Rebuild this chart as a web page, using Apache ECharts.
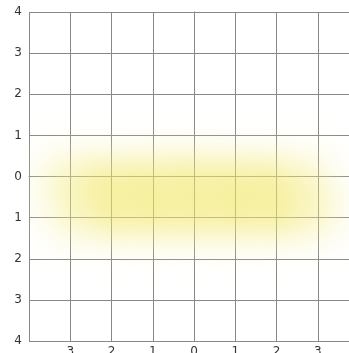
<!DOCTYPE html>
<html>
<head>
<meta charset="utf-8">
<script src="https://cdn.jsdelivr.net/npm/echarts@6/dist/echarts.min.js"></script>
<style>html,body{margin:0;padding:0;background:#fff;}#c{width:349px;height:353px;}</style>
</head>
<body>
<div id="c"></div>
<script>
// axis ticks (value -> label text as printed in the reference)
var tickValues = [-4, -3, -2, -1, 0, 1, 2, 3, 4];
var xTickLabels = ['4', '3', '2', '1', '0', '1', '2', '3', '4'];
var yTickLabels = ['4', '3', '2', '1', '0', '1', '2', '3', '4'];

// heat sources (two rows)
var blobX = [-3.2, -2.2, -1.2, -0.2, 0.8, 1.8, 2.8, -3.0, -2.0, -1.0, 0.0, 1.0, 2.0, 3.0];
var blobY = [0.0, -0.05, -0.05, 0.0, -0.05, -0.05, -0.05, -0.95, -0.95, -0.95, -0.95, -0.95, -0.95, -0.95];
var blobValue = [3, 7, 8, 9, 8, 7, 3, 3, 7, 8, 9, 8, 7, 3];

var heatData = blobX.map(function (x, i) { return [x, blobY[i], blobValue[i]]; });

echarts.registerMap('box', {
  type: 'FeatureCollection',
  features: [{
    type: 'Feature', properties: { name: 'box' },
    geometry: { type: 'Polygon', coordinates: [[[-4, -4], [4, -4], [4, 4], [-4, 4], [-4, -4]]] }
  }]
});

function lab(arr) {
  return function (v) {
    var i = tickValues.indexOf(Math.round(v));
    return i >= 0 ? arr[i] : '';
  };
}

var chart = echarts.init(document.getElementById('c'), null, { renderer: 'canvas' });
chart.setOption({
  animation: false,
  backgroundColor: '#fff',
  grid: { left: 29, top: 12, width: 330, height: 329, containLabel: false, outerBoundsMode: 'none' },
  xAxis: {
    type: 'value', min: -4, max: 4, interval: 1,
    axisLine: { show: true, lineStyle: { color: '#888', width: 1 } },
    axisTick: { show: false },
    splitLine: { show: true, lineStyle: { color: '#888', width: 1 } },
    axisLabel: { formatter: lab(xTickLabels), showMinLabel: false, color: '#333', fontSize: 12, margin: 5, fontFamily: 'DejaVu Sans' }
  },
  yAxis: {
    type: 'value', min: -4, max: 4, interval: 1,
    axisLine: { show: true, lineStyle: { color: '#888', width: 1 } },
    axisTick: { show: false },
    splitLine: { show: true, lineStyle: { color: '#888', width: 1 } },
    axisLabel: { formatter: lab(yTickLabels), color: '#333', fontSize: 12, margin: 7, fontFamily: 'DejaVu Sans' }
  },
  geo: {
    map: 'box', roam: false, silent: true,
    boundingCoords: [[-4, 4], [4, -4]],
    aspectScale: 1,
    left: 29, top: 12, width: 330, height: 329,
    itemStyle: { areaColor: 'rgba(0,0,0,0)', borderWidth: 0, borderColor: 'rgba(0,0,0,0)' },
    emphasis: { disabled: true },
    label: { show: false }
  },
  visualMap: {
    show: false, type: 'continuous', min: 0, max: 4.5, seriesIndex: 0,
    inRange: { color: ['#faf6c0', '#eee040'] }
  },
  series: [{
    type: 'heatmap', coordinateSystem: 'geo',
    pointSize: 24, blurSize: 42, maxOpacity: 0.85, minOpacity: 0,
    data: heatData
  }]
});
</script>
</body>
</html>
